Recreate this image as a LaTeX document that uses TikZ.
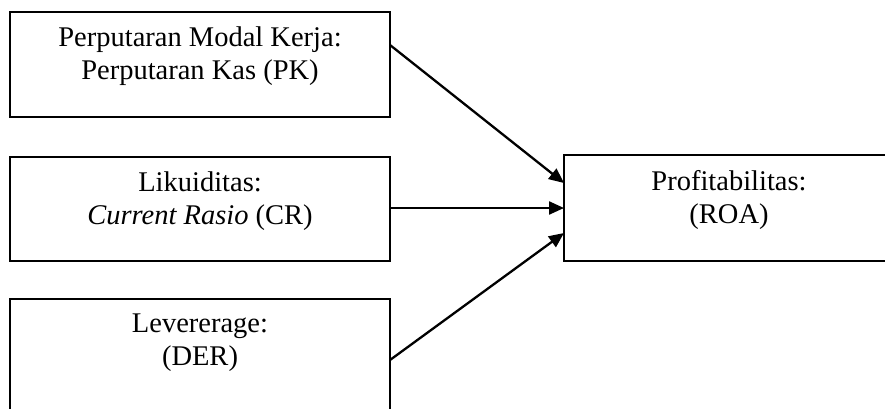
\documentclass[tikz,border=0pt]{standalone}
\usepackage{fontspec}
\setmainfont{Liberation Serif}
\usetikzlibrary{arrows.meta}
\begin{document}
\begin{tikzpicture}[x=1pt,y=-1pt,
  box/.style={draw=black, line width=2.6pt, inner sep=0pt, outer sep=0pt, fill=white},
  lbl/.style={align=center, inner sep=0pt, anchor=north, font=\fontsize{28.5}{33}\selectfont},
  arr/.style={line width=2.3pt, -{Triangle[length=15pt,width=13pt]}}]
\useasboundingbox (0,0) rectangle (885,408);
\fill[white] (0,0) rectangle (885,408);
\begin{scope}
\clip (0,0) rectangle (885,408);
\node[box, minimum width=380pt, minimum height=105pt] (pk) at (200,64.5) {};
\node[box, minimum width=380pt, minimum height=104pt] (cr) at (200,209) {};
\node[box, minimum width=380pt, minimum height=130pt] (der) at (200,364) {};
\node[box, minimum width=330pt, minimum height=106pt] (roa) at (729,208) {};
\end{scope}
\node[lbl] (pkt) at ([yshift=-15pt]pk.north) {Perputaran Modal Kerja:\\Perputaran Kas (PK)};
\node[lbl] (crt) at ([yshift=-15pt]cr.north) {Likuiditas:\\\textit{Current Rasio} (CR)};
\node[lbl] (dert) at ([yshift=-15pt]der.north) {Levererage:\\(DER)};
\node[lbl] (roat) at ([yshift=-15pt]roa.north) {Profitabilitas:\\(ROA)};
\draw[arr] ([yshift=-33pt]pk.north east) -- ([yshift=25pt]roa.west);
\draw[arr] (cr.east |- roa.west) -- (roa.west);
\draw[arr] ([yshift=-61pt]der.north east) -- ([yshift=-25pt]roa.west);
\end{tikzpicture}
\end{document}
